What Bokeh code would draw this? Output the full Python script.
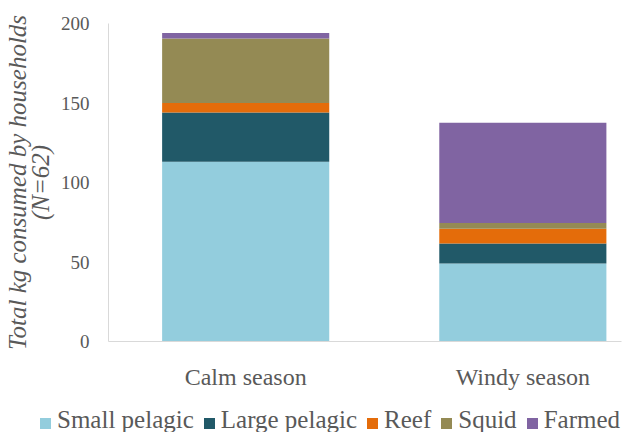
from bokeh.plotting import figure
from bokeh.layouts import column
from bokeh.models import ColumnDataSource, Div, FixedTicker, Range1d
from bokeh.embed import file_html
from bokeh.resources import INLINE

# Household fish consumption by season (kg), stacked by fish type
seasons = ["Calm season", "Windy season"]
small_pelagic = [113.0, 49.0]
large_pelagic = [31.0, 12.6]
reef = [6.0, 9.3]
squid = [40.5, 3.7]
farmed = [3.5, 63.0]

series_names = ["Small pelagic", "Large pelagic", "Reef", "Squid", "Farmed"]
series_keys = ["small_pelagic", "large_pelagic", "reef", "squid", "farmed"]
colors = ["#93CDDD", "#215968", "#E46C0A", "#948A54", "#8064A2"]
y_ticks = [0, 50, 100, 150, 200]

positions = [1, 2]
source = ColumnDataSource(dict(
    x=positions,
    small_pelagic=small_pelagic,
    large_pelagic=large_pelagic,
    reef=reef,
    squid=squid,
    farmed=farmed,
))

FONT = "Liberation Serif"
GREY = "#595959"

p = figure(frame_width=513, frame_height=318,
           output_backend="svg", toolbar_location=None,
           x_range=Range1d(0.505, 2.356), y_range=Range1d(0, 200),
           min_border_left=108, min_border_top=23, min_border_right=2,
           min_border_bottom=47)
p.outline_line_color = None
p.xgrid.visible = False
p.ygrid.visible = False

p.vbar_stack(series_keys, x="x", width=0.603, color=colors,
             line_color=None, source=source)

# y axis
p.yaxis.ticker = FixedTicker(ticks=y_ticks)
p.yaxis.axis_line_color = "#D9D9D9"
p.yaxis.major_tick_line_color = None
p.yaxis.minor_tick_line_color = None
p.yaxis.major_label_text_font = FONT
p.yaxis.major_label_text_font_size = "19px"
p.yaxis.major_label_text_color = GREY
p.yaxis.major_label_standoff = 13
p.yaxis.axis_label = "Total kg consumed by households\n(N=62)"
p.yaxis.axis_label_text_font = FONT
p.yaxis.axis_label_text_font_style = "italic"
p.yaxis.axis_label_text_font_size = "25px"
p.yaxis.axis_label_text_color = GREY
p.yaxis.axis_label_text_line_height = 0.85
p.yaxis.axis_label_standoff = 4

# x axis with season names at bar centres
p.xaxis.ticker = FixedTicker(ticks=positions)
p.xaxis.major_label_overrides = {pos: name for pos, name in zip(positions, seasons)}
p.xaxis.axis_line_color = "#D9D9D9"
p.xaxis.major_tick_line_color = None
p.xaxis.minor_tick_line_color = None
p.xaxis.major_label_text_font = FONT
p.xaxis.major_label_text_font_size = "24px"
p.xaxis.major_label_text_color = GREY
p.xaxis.major_label_standoff = 16

# horizontal key under the chart: colour swatch + series name
swatch = ('<span style="display:inline-block;width:11px;height:11px;'
          'background:{c};margin-right:6px;vertical-align:-1px"></span>')
entry = '<span style="margin-right:10px;font-family:Liberation Serif,serif">{n}</span>'
key_html = "".join(swatch.format(c=c) + entry.format(n=n)
                   for c, n in zip(colors, series_names))
key = Div(
    text=('<div style="font-family:Liberation Serif,serif;font-size:25px;'
          'color:#595959;white-space:nowrap;line-height:26px;'
          'padding:15px 0 0 40px;margin:0">' + key_html + '</div>'),
    width=623, height=44,
    styles={"margin": "0", "padding": "0", "font-family": "Liberation Serif, serif"},
)

layout = column(p, key, spacing=0)
open("out.html", "w").write(file_html(layout, INLINE))
